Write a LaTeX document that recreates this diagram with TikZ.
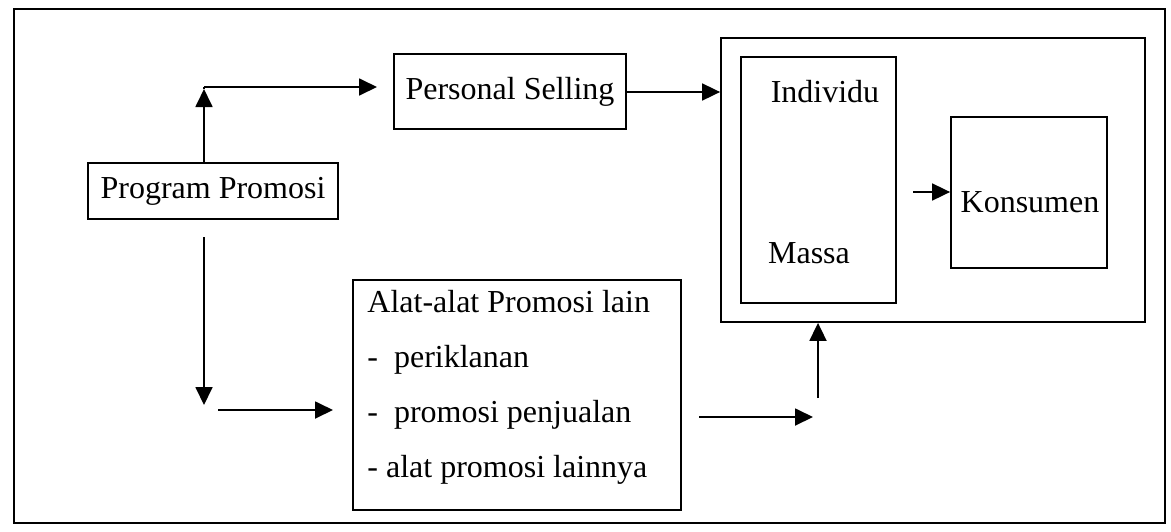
\documentclass[tikz,border=0pt]{standalone}
\usepackage{fontspec}
\setmainfont{Liberation Serif}
\usetikzlibrary{arrows.meta,positioning}

\begin{document}
\begin{tikzpicture}[
  x=0.5pt,y=-0.5pt,
  box/.style={draw,line width=0.9pt,inner sep=0pt},
  txt/.style={font=\fontsize{16}{19}\selectfont,inner sep=0pt},
  arr/.style={line width=0.9pt,-{Triangle[length=9pt,width=8.5pt]}}
]
  \useasboundingbox (0,0) rectangle (1171,531);
  % outer frame
  \draw[line width=0.9pt] (14,9) rectangle (1165,523);

  % boxes
  \node[box,txt,minimum width=125pt,minimum height=28pt] (prog) at (213,191) {Program Promosi};
  \node[box,txt,minimum width=116pt,minimum height=37.5pt] (ps) at (510,91.5) {Personal Selling};
  \node[box,minimum width=212pt,minimum height=142pt] (grp) at (933,180) {};
  \node[box,minimum width=77.5pt,minimum height=123pt] (im) at (818.5,180) {};
  \node[box,minimum width=78pt,minimum height=75.5pt] (kons) at (1029,192.5) {};
  \node[box,minimum width=164pt,minimum height=115pt] (alat) at (517,395) {};

  % texts
  \node[txt] (indiv) at (825,92) {Individu};
  \node[txt] (massa) at (809,253) {Massa};
  \node[txt] (konsT) at (1030,202) {Konsumen};
  \node[txt,anchor=west,align=left,font=\fontsize{16}{27.5}\selectfont] (alatT) at (367,387.5)
    {Alat-alat Promosi lain\\-\ \ periklanan\\-\ \ promosi penjualan\\- alat promosi lainnya};

  % connectors
  \coordinate (c1) at (204,89);
  \coordinate (c2) at (377,87);
  \draw[arr] (c1 |- prog.north) -- (c1);
  \draw[line width=0.9pt] (204,87) -- (c1);
  \draw[arr] (204,87) -- (c2);
  \draw[arr] (ps.east |- 0,92) -- (grp.west |- 0,92);
  \coordinate (c3) at (913,192);
  \draw[arr] (c3) -- (c3 -| kons.west);
  \coordinate (c4) at (204,237);
  \coordinate (c5) at (204,405);
  \draw[arr] (c4) -- (c5);
  \coordinate (c6) at (218,410);
  \coordinate (c7) at (333,410);
  \draw[arr] (c6) -- (c7);
  \coordinate (c8) at (699,417);
  \coordinate (c9) at (813,417);
  \draw[arr] (c8) -- (c9);
  \coordinate (c10) at (818,398);
  \draw[arr] (c10) -- (c10 |- grp.south);
\end{tikzpicture}
\end{document}
